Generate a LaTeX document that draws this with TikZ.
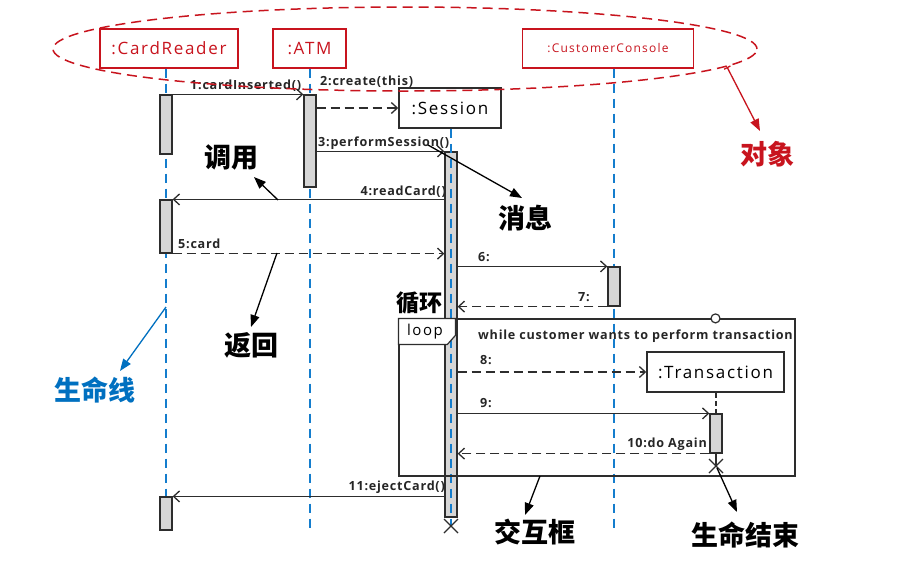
\documentclass[tikz,border=0pt]{standalone}
\usepackage{fontspec}
\setmainfont{Open Sans}[LetterSpace=10]
\newfontfamily\msgfont{Open Sans}[LetterSpace=6]
\newfontfamily\cjk{Noto Sans CJK SC}
\usetikzlibrary{arrows.meta,calc,shapes.geometric}
\definecolor{objred}{RGB}{200,20,30}
\definecolor{lifeblue}{RGB}{20,125,205}
\definecolor{annblue}{RGB}{0,112,192}
\definecolor{barfill}{RGB}{214,214,214}
\definecolor{ink}{RGB}{45,45,45}
\tikzset{
  obj/.style={draw=objred, line width=1.3pt, text=objred, minimum height=39pt, inner sep=0pt, font=\fontsize{17}{20}\selectfont},
  inst/.style={draw=ink, line width=1.5pt, fill=white, minimum height=40pt, inner sep=0pt, font=\fontsize{17}{20}\selectfont},
  actbar/.style={draw=ink, fill=barfill, line width=1.2pt, minimum width=12pt, inner sep=0pt},
  lifeline/.style={lifeblue, line width=1.6pt, dash pattern=on 9pt off 6pt},
  msg/.style={ink, line width=1.3pt, -{Straight Barb[length=6pt,width=11pt]}},
  reply/.style={msg, dash pattern=on 9pt off 5pt},
  msglbl/.style={font=\msgfont\bfseries\fontsize{12.6}{14}\selectfont, inner sep=0pt, anchor=base west, text=black!85},
  ann/.style={font=\cjk\bfseries\fontsize{27}{29}\selectfont, inner sep=0pt},
  annarrow/.style={black, line width=1.3pt, -{Triangle[length=12pt,width=9pt]}},
  cross/.style={ink, line width=1.2pt}
}
\begin{document}
\begin{tikzpicture}[x=1pt,y=-1pt]
\useasboundingbox (0,0) rectangle (910,566);
\fill[white] (0,0) rectangle (910,566);

% object boxes
\node[obj, minimum width=138pt] (cr) at (169,48.5) {:CardReader};
\node[obj, minimum width=73pt] (atm) at (309.5,48.5) {:ATM};
\node[obj, minimum width=171pt, font=\fontsize{12}{14}\selectfont] (cc) at (608,48.5) {:CustomerConsole};

% lifeline end points
\coordinate (crend) at (166,531);
\coordinate (atmend) at (310,531);
\coordinate (ccend) at (614,531);
\coordinate (sesend) at (451,526);
\coordinate (trx) at (716,466);

\draw[lifeline] (cr.south -| crend) -- (crend);
\draw[lifeline] (atm.south -| atmend) -- (atmend);
\draw[lifeline] (cc.south -| ccend) -- (ccend);

% created instances
\node[inst, minimum width=102pt] (sesbox) at (450,108) {:Session};
\node[inst, minimum width=137pt] (trbox) at (715.5,372) {:Transaction};

% activation bars
\node[actbar, minimum height=59pt] (cr1) at (166,124.5) {};
\node[actbar, minimum height=53pt] (cr2) at (166,226.5) {};
\node[actbar, minimum height=33pt] (cr3) at (166,513.5) {};
\node[actbar, minimum height=92pt] (atm1) at (310,141) {};
\node[actbar, minimum height=365pt] (ses1) at (451,334.5) {};
\node[actbar, minimum height=39pt] (cc1) at (614,286.5) {};
\node[actbar, minimum height=39pt] (tr1) at (716,433.5) {};

\draw[lifeline] (sesbox.south -| sesend) -- (sesend);
\draw[ink, line width=1.2pt, dash pattern=on 5pt off 3pt] (trbox.south -| tr1) -- (tr1.north);
\draw[ink, line width=1.2pt] (tr1.south) -- (trx);

% loop frame
\node[draw=ink, line width=1.2pt, minimum width=396pt, minimum height=157pt, inner sep=0pt] (loopf) at (597,397.5) {};
\draw[ink, line width=1.2pt, fill=white] (loopf.north west) -- ++(57,0) -- ++(0,17) -- ++(-8,9) -- ++(-49,0) -- cycle;
\node[inner sep=0pt, font=\fontsize{15}{17}\selectfont] (looplbl) at (425,332) {loop};
\node[circle, draw=ink, line width=1.2pt, fill=white, minimum size=9pt, inner sep=0pt] (loopc) at (trbox.center |- loopf.north) {};
\node[msglbl] (guard) at (478,339) {while customer wants to perform transaction};

% messages
\draw[msg] (cr1.north east) -- (atm1.north west);
\draw[reply] (atm1.east |- sesbox.west) -- (sesbox.west);
\draw[msg] (atm1.east |- ses1.north) -- (ses1.north west);
\draw[msg] (ses1.west |- cr2.north) -- (cr2.north east);
\draw[reply] (cr2.south east) -- (ses1.west |- cr2.south);
\draw[msg] (ses1.east |- cc1.north) -- (cc1.north west);
\draw[reply] (cc1.south west) -- (ses1.east |- cc1.south);
\draw[reply] (ses1.east |- trbox.west) -- (trbox.west);
\draw[msg] (ses1.east |- tr1.north) -- (tr1.north west);
\draw[reply] (tr1.south west) -- (ses1.east |- tr1.south);
\draw[msg] (ses1.west |- cr3.north) -- (cr3.north east);

% message labels
\node[msglbl] (m1) at (190,89) {1:cardInserted()};
\node[msglbl] (m2) at (320,85) {2:create(this)};
\node[msglbl] (m3) at (318,146) {3:performSession()};
\node[msglbl, anchor=base east] (m4) at (446,195) {4:readCard()};
\node[msglbl] (m5) at (178,248) {5:card};
\node[msglbl] (m6) at (478,261) {6:};
\node[msglbl] (m7) at (578,301) {7:};
\node[msglbl] (m8) at (480,364) {8:};
\node[msglbl] (m9) at (480,407) {9:};
\node[msglbl, anchor=base east] (m10) at (707,447) {10:do Again};
\node[msglbl, anchor=base east] (m11) at (445,490) {11:ejectCard()};

% destruction crosses
\draw[cross] ($(sesend)+(-7,-7)$) -- ($(sesend)+(7,7)$);
\draw[cross] ($(sesend)+(-7,7)$) -- ($(sesend)+(7,-7)$);
\draw[cross] ($(trx)+(-7,-7)$) -- ($(trx)+(7,7)$);
\draw[cross] ($(trx)+(-7,7)$) -- ($(trx)+(7,-7)$);

% object ellipse
\node[ellipse, draw=objred, line width=1.5pt, dash pattern=on 10pt off 6pt, minimum width=704pt, minimum height=84pt, inner sep=0pt] (objell) at (405,49) {};

% annotations
\node[ann] (tdiaoyong) at (231,157) {调用};
\node[ann] (txiaoxi) at (525,218) {消息};
\node[ann, text=objred] (tduixiang) at (767,154) {对象};
\node[ann] (tfanhui) at (251,345) {返回};
\node[ann, font=\cjk\bfseries\fontsize{23}{25}\selectfont] (txunhuan) at (419,303) {循环};
\node[ann, text=annblue] (tshengming) at (95,390) {生命线};
\node[ann] (tjiaohu) at (535,532) {交互框};
\node[ann] (tjieshu) at (745,535) {生命结束};

\coordinate (a1s) at (278,200); \coordinate (a1e) at (254,177);
\coordinate (a2s) at (428,145); \coordinate (a2e) at (522,198);
\coordinate (a3s) at (727,67);  \coordinate (a3e) at (760,131);
\coordinate (a4s) at (277,253); \coordinate (a4e) at (251,327);
\coordinate (a5s) at (166,307); \coordinate (a5e) at (120,371);
\coordinate (a6s) at (540,476); \coordinate (a6e) at (525,515);
\coordinate (a7s) at (717,468); \coordinate (a7e) at (737,512);

\draw[annarrow] (a1s) -- (a1e);
\draw[annarrow] (a2s) -- (a2e);
\draw[annarrow, objred, {Bar[width=7pt]}-{Triangle[length=12pt,width=9pt]}] (a3s) -- (a3e);
\draw[annarrow] (a4s) -- (a4e);
\draw[annarrow, annblue] (a5s) -- (a5e);
\draw[annarrow] (a6s) -- (a6e);
\draw[annarrow] (a7s) -- (a7e);
\end{tikzpicture}
\end{document}
